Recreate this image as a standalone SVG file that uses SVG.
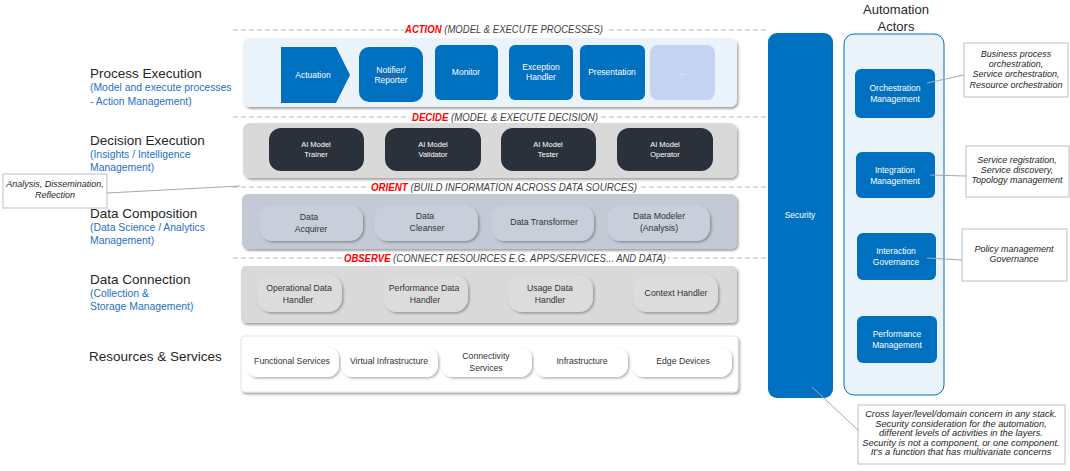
<svg xmlns="http://www.w3.org/2000/svg" width="1070" height="471" viewBox="0 0 1070 471">
<defs>
<filter id="sh" x="-10%" y="-10%" width="130%" height="140%"><feDropShadow dx="1.5" dy="2" stdDeviation="1.2" flood-color="#000" flood-opacity="0.35"/></filter>
<filter id="shs" x="-10%" y="-10%" width="130%" height="140%"><feDropShadow dx="1.5" dy="1.5" stdDeviation="1" flood-color="#000" flood-opacity="0.3"/></filter>
<style>
text{font-family:"Liberation Sans",Arial,sans-serif}
.dash{stroke:#a9b4c4;stroke-width:1;stroke-dasharray:5 3;fill:none}
.hdr{font-size:10px;font-style:italic;fill:#404040}
.hdr tspan.k{fill:#ff0000;font-weight:bold}
.lt{font-size:13.5px;fill:#262626}
.ls{font-size:10.4px;fill:#1f6fc5}
.bb{fill:#0070c0}
.wt{font-size:8.5px;fill:#ffffff;text-anchor:middle}
.ai{fill:#2b313b}
.aw{font-size:7.5px;fill:#ffffff;text-anchor:middle}
.gt{font-size:8.7px;fill:#333333;text-anchor:middle}
.co{fill:#ffffff;stroke:#b9c0ca;stroke-width:1}
.ct{font-size:9px;font-style:italic;fill:#262626;text-anchor:middle}
.cs{font-size:9.3px;font-style:italic;fill:#262626;text-anchor:middle}
.cl{stroke:#9eaab8;stroke-width:1;fill:none}
</style>
</defs>
<rect width="1070" height="471" fill="#ffffff"/>

<!-- dashed layer separators -->
<g id="separators">
<line class="dash" x1="233" y1="30" x2="766" y2="30"/>
<line class="dash" x1="233" y1="117" x2="766" y2="117"/>
<line class="dash" x1="233" y1="187" x2="766" y2="187"/>
<line class="dash" x1="233" y1="258" x2="766" y2="258"/>
<rect x="403" y="22" width="203" height="14" fill="#fff"/>
<rect x="410" y="109" width="190" height="14" fill="#fff"/>
<rect x="369" y="180" width="270" height="14" fill="#fff"/>
<rect x="342" y="250" width="326" height="14" fill="#fff"/>
<text class="hdr" x="504" y="33" text-anchor="middle" textLength="198" lengthAdjust="spacingAndGlyphs"><tspan class="k">ACTION</tspan> (MODEL &amp; EXECUTE PROCESSES)</text>
<text class="hdr" x="505" y="121" text-anchor="middle" textLength="186" lengthAdjust="spacingAndGlyphs"><tspan class="k">DECIDE</tspan> (MODEL &amp; EXECUTE DECISION)</text>
<text class="hdr" x="504" y="191" text-anchor="middle" textLength="266" lengthAdjust="spacingAndGlyphs"><tspan class="k">ORIENT</tspan> (BUILD INFORMATION ACROSS DATA SOURCES)</text>
<text class="hdr" x="505" y="262" text-anchor="middle" textLength="322" lengthAdjust="spacingAndGlyphs"><tspan class="k">OBSERVE</tspan> (CONNECT RESOURCES E.G. APPS/SERVICES... AND DATA)</text>
</g>

<!-- left labels -->
<g id="left-labels">
<text class="lt" x="90" y="78">Process Execution</text>
<text class="ls" x="90" y="91">(Model and execute processes</text>
<text class="ls" x="90" y="105">- Action Management)</text>
<text class="lt" x="90" y="145">Decision Execution</text>
<text class="ls" x="90" y="158">(Insights / Intelligence</text>
<text class="ls" x="90" y="171">Management)</text>
<text class="lt" x="90" y="218">Data Composition</text>
<text class="ls" x="90" y="231">(Data Science / Analytics</text>
<text class="ls" x="90" y="244">Management)</text>
<text class="lt" x="90" y="284">Data Connection</text>
<text class="ls" x="90" y="297">(Collection &amp;</text>
<text class="ls" x="90" y="310">Storage Management)</text>
<text class="lt" x="89" y="361">Resources &amp; Services</text>
</g>

<!-- ACTION layer -->
<g id="action-layer">
<rect x="243" y="38" width="494" height="69" rx="7" fill="#eaf2fa" filter="url(#sh)"/>
<g id="actuation"><polygon class="bb" points="281,47 336,47 350,75 336,103 281,103"/><text class="wt" x="313" y="78">Actuation</text></g>
<g id="notifier"><rect class="bb" x="359" y="47" width="64" height="55" rx="10"/><text class="wt" x="391" y="73">Notifier/</text><text class="wt" x="391" y="83">Reporter</text><path d="M381,76 q1.5,-1.5 3,0 t3,0 t3,0 t3,0 t3,0 t3,0" stroke="#e03030" stroke-width="0.8" fill="none"/></g>
<g id="monitor"><rect class="bb" x="435" y="45" width="63" height="55" rx="6"/><text class="wt" x="466" y="75">Monitor</text></g>
<g id="exception-handler"><rect class="bb" x="509" y="45" width="64" height="55" rx="6"/><text class="wt" x="541" y="70">Exception</text><text class="wt" x="541" y="80">Handler</text></g>
<g id="presentation"><rect class="bb" x="580" y="45" width="65" height="55" rx="6"/><text class="wt" x="612" y="75">Presentation</text></g>
<g id="more"><rect x="650" y="45" width="65" height="55" rx="8" fill="#c5d3f3"/><text class="wt" x="682" y="75">...</text></g>
</g>

<!-- DECIDE layer -->
<g id="decide-layer">
<rect x="243" y="123" width="494" height="55" rx="7" fill="#d9d9d9" filter="url(#sh)"/>
<g id="ai-trainer"><rect class="ai" x="269" y="128" width="95" height="43" rx="12"/><text class="aw" x="316" y="147">AI Model</text><text class="aw" x="316" y="157">Trainer</text></g>
<g id="ai-validator"><rect class="ai" x="385" y="128" width="96" height="43" rx="12"/><text class="aw" x="433" y="147">AI Model</text><text class="aw" x="433" y="157">Validator</text></g>
<g id="ai-tester"><rect class="ai" x="501" y="128" width="95" height="43" rx="12"/><text class="aw" x="548" y="147">AI Model</text><text class="aw" x="548" y="157">Tester</text></g>
<g id="ai-operator"><rect class="ai" x="617" y="128" width="96" height="43" rx="12"/><text class="aw" x="665" y="147">AI Model</text><text class="aw" x="665" y="157">Operator</text></g>
</g>

<!-- ORIENT layer -->
<g id="orient-layer">
<rect x="242" y="194" width="495" height="55" rx="6" fill="#c3cad6" filter="url(#sh)"/>
<g id="data-acquirer"><rect x="259" y="205" width="104" height="36" rx="14" fill="#c8ceda" filter="url(#shs)"/><text class="gt" x="309" y="220">Data</text><text class="gt" x="311" y="232">Acquirer</text></g>
<g id="data-cleanser"><rect x="374" y="205" width="104" height="36" rx="14" fill="#c8ceda" filter="url(#shs)"/><text class="gt" x="425" y="219">Data</text><text class="gt" x="427" y="231">Cleanser</text></g>
<g id="data-transformer"><rect x="491" y="205" width="103" height="36" rx="14" fill="#c8ceda" filter="url(#shs)"/><text class="gt" x="544" y="225">Data Transformer</text></g>
<g id="data-modeler"><rect x="607" y="205" width="103" height="36" rx="14" fill="#c8ceda" filter="url(#shs)"/><text class="gt" x="659" y="219">Data Modeler</text><text class="gt" x="659" y="231">(Analysis)</text></g>
</g>

<!-- OBSERVE layer -->
<g id="observe-layer">
<rect x="241" y="266" width="496" height="57" rx="5" fill="#d9d9d9" filter="url(#sh)"/>
<g id="operational-data-handler"><rect x="257" y="275" width="85" height="37" rx="14" fill="#dcdcdc" filter="url(#shs)"/><text class="gt" x="299" y="291">Operational Data</text><text class="gt" x="298" y="303">Handler</text></g>
<g id="performance-data-handler"><rect x="383" y="275" width="85" height="37" rx="14" fill="#dcdcdc" filter="url(#shs)"/><text class="gt" x="424" y="291">Performance Data</text><text class="gt" x="425" y="303">Handler</text></g>
<g id="usage-data-handler"><rect x="508" y="275" width="85" height="37" rx="14" fill="#dcdcdc" filter="url(#shs)"/><text class="gt" x="550" y="291">Usage Data</text><text class="gt" x="550" y="303">Handler</text></g>
<g id="context-handler"><rect x="633" y="275" width="85" height="37" rx="14" fill="#dcdcdc" filter="url(#shs)"/><text class="gt" x="676" y="296">Context Handler</text></g>
</g>

<!-- Resources layer -->
<g id="resources-layer">
<rect x="241" y="336" width="497" height="56" rx="4" fill="#ffffff" stroke="#e4e4e4" filter="url(#sh)"/>
<g id="functional-services"><rect x="246" y="347" width="93" height="30" rx="12" fill="#fff" filter="url(#shs)"/><text class="gt" x="292" y="364">Functional Services</text></g>
<g id="virtual-infrastructure"><rect x="341" y="347" width="97" height="30" rx="12" fill="#fff" filter="url(#shs)"/><text class="gt" x="389" y="364">Virtual Infrastructure</text></g>
<g id="connectivity-services"><rect x="441" y="347" width="91" height="30" rx="12" fill="#fff" filter="url(#shs)"/><text class="gt" x="486" y="359">Connectivity</text><text class="gt" x="486" y="371">Services</text></g>
<g id="infrastructure"><rect x="534" y="347" width="94" height="30" rx="12" fill="#fff" filter="url(#shs)"/><text class="gt" x="582" y="364">Infrastructure</text></g>
<g id="edge-devices"><rect x="632" y="347" width="100" height="30" rx="12" fill="#fff" filter="url(#shs)"/><text class="gt" x="683" y="364">Edge Devices</text></g>
</g>

<!-- Security bar -->
<g id="security">
<rect class="bb" x="768" y="33" width="65" height="365" rx="9"/>
<text class="wt" x="800" y="218">Security</text>
</g>

<!-- Automation actors -->
<g id="automation-actors">
<text x="896" y="14" font-size="13" fill="#262626" text-anchor="middle">Automation</text>
<text x="896" y="31" font-size="13" fill="#262626" text-anchor="middle">Actors</text>
<rect x="844" y="34" width="100" height="361" rx="10" fill="#eaf2fa" stroke="#0070c0" stroke-width="1"/>
<g id="orchestration-management"><rect class="bb" x="855" y="69" width="80" height="49" rx="6"/><text class="wt" x="895" y="91">Orchestration</text><text class="wt" x="895" y="102">Management</text></g>
<g id="integration-management"><rect class="bb" x="856" y="152" width="79" height="46" rx="6"/><text class="wt" x="895" y="173">Integration</text><text class="wt" x="895" y="184">Management</text></g>
<g id="interaction-governance"><rect class="bb" x="857" y="233" width="79" height="47" rx="6"/><text class="wt" x="896" y="254">Interaction</text><text class="wt" x="896" y="265">Governance</text></g>
<g id="performance-management"><rect class="bb" x="857" y="316" width="80" height="47" rx="6"/><text class="wt" x="897" y="337" font-size="9">Performance</text><text class="wt" x="897" y="348">Management</text></g>
</g>

<!-- callouts -->
<g id="callout-analysis">
<rect class="co" x="3" y="174" width="104" height="34"/>
<text class="ct" x="55" y="187" font-size="8.7">Analysis, Dissemination,</text>
<text class="ct" x="55" y="198" font-size="8.7">Reflection</text>
</g>
<g id="callout-orchestration">
<rect class="co" x="964" y="43" width="104" height="54"/>
<text class="ct" x="1016" y="57">Business process</text>
<text class="ct" x="1016" y="67">orchestration,</text>
<text class="ct" x="1016" y="77">Service orchestration,</text>
<text class="ct" x="1016" y="88">Resource orchestration</text>
</g>
<g id="callout-integration">
<rect class="co" x="966" y="146" width="103" height="51"/>
<text class="ct" x="1017" y="163">Service registration,</text>
<text class="ct" x="1017" y="173">Service discovery,</text>
<text class="ct" x="1017" y="183">Topology management</text>
</g>
<g id="callout-governance">
<rect class="co" x="962" y="229" width="105" height="52"/>
<text class="ct" x="1014" y="252">Policy management</text>
<text class="ct" x="1014" y="262">Governance</text>
</g>
<g id="callout-security">
<rect class="co" x="858" y="405" width="207" height="59"/>
<text class="cs" x="961" y="417">Cross layer/level/domain concern in any stack.</text>
<text class="cs" x="961" y="427">Security consideration for the automation,</text>
<text class="cs" x="961" y="436" font-size="8">different levels of activities in the layers.</text>
<text class="cs" x="961" y="446">Security is not a component, or one component.</text>
<text class="cs" x="961" y="455" font-size="8">It's a function that has multivariate concerns</text>
</g>

<!-- connectors -->
<g id="connectors">
<line class="cl" x1="107" y1="193" x2="240" y2="186"/>
<line class="cl" x1="927" y1="83" x2="964" y2="75"/>
<line class="cl" x1="930" y1="175" x2="966" y2="176"/>
<line class="cl" x1="927" y1="258" x2="962" y2="260"/>
<line class="cl" x1="812" y1="387" x2="859" y2="431"/>
</g>
</svg>
